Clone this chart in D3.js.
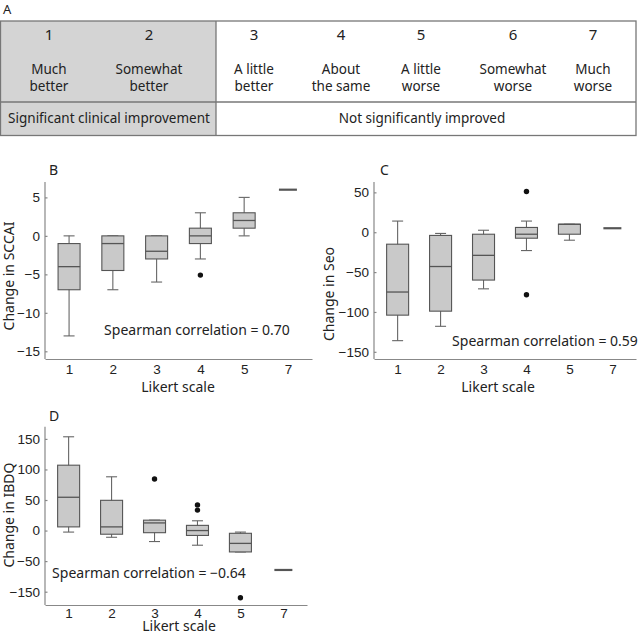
<!DOCTYPE html>
<html>
<head>
<meta charset="utf-8">
<script src="https://cdn.jsdelivr.net/npm/d3@7"></script>
<style>
  body { margin: 0; background: #fff; }
  svg { display: block; font-family: "Noto Sans", sans-serif; }
  .axis path, .axis line { stroke: #888; stroke-width: 1.2; }
  .axis text { font-size: 13.5px; fill: #222; }
</style>
</head>
<body>
<div id="chart"></div>
<script>
// ---- data ----
const likertLevels = ['1', '2', '3', '4', '5', '6', '7']
const likertWords = [
  ['Much', 'better'], ['Somewhat', 'better'], ['A little', 'better'],
  ['About', 'the same'], ['A little', 'worse'], ['Somewhat', 'worse'], ['Much', 'worse']
]
const groupLabels = ['Significant clinical improvement', 'Not significantly improved']

// categories present in the box plots (no patient answered 6)
const boxCategories = ['1', '2', '3', '4', '5', '7']

// [low whisker, Q1, median, Q3, high whisker] per category
const sccaiStats = [
  [-13, -7, -4, -1, 0],
  [-7, -4.5, -1, 0, 0],
  [-6, -3, -2, 0, 0],
  [-3, -1, 0, 1, 3],
  [0, 1, 2, 3, 5],
  [6, 6, 6, 6, 6]
]
const sccaiOutliers = [['4', -5.1]]
const sccaiTicks = [5, 0, -5, -10, -15]

const seoStats = [
  [-136, -104, -75, -15, 14],
  [-118, -99, -43, -4, -1.5],
  [-71, -60, -29, -2.5, 2.5],
  [-23, -7.5, -2.5, 6, 14],
  [-10, -2.5, 10, 10, 10],
  [5, 5, 5, 5, 5]
]
const seoOutliers = [['4', 51], ['4', -78.5]]
const seoTicks = [50, 0, -50, -100, -150]

const ibdqStats = [
  [-2.5, 6, 54.5, 107, 153.5],
  [-11, -6, 6, 49.5, 88],
  [-18, -3.5, 12.5, 17, 17],
  [-24, -8, 0, 8.5, 16],
  [-35, -35, -21, -4.5, -2.5],
  [-79, -79, -79, -79, -79]
]
const ibdqOutliers = [['3', 84.5], ['4', 42], ['4', 33.5], ['5', -160]]
const ibdqTicks = [150, 100, 50, 0, -50, -150]

// ---- layout ----
const W = 640, H = 635
const svg = d3.select('#chart').append('svg')
  .attr('width', W).attr('height', H)

// ---- panel A: Likert table ----
function drawTable () {
  const x0 = 0.5, x1 = 636, y0 = 21, yMid = 102, y1 = 135.5, split = 216
  const colX = [49, 149, 254, 341, 421, 513, 593]
  const g = svg.append('g')

  g.append('text').text('A').attr('x', 3).attr('y', 14)
    .attr('font-size', 13).attr('fill', '#222')

  g.append('rect').attr('x', x0).attr('y', y0)
    .attr('width', split - x0).attr('height', y1 - y0)
    .attr('fill', '#d4d4d4')
  g.append('rect').attr('x', x0).attr('y', y0)
    .attr('width', x1 - x0).attr('height', y1 - y0)
    .attr('fill', 'none').attr('stroke', '#777').attr('stroke-width', 1.3)
  g.append('line').attr('x1', x0).attr('x2', x1).attr('y1', yMid).attr('y2', yMid)
    .attr('stroke', '#777').attr('stroke-width', 1.3)
  g.append('line').attr('x1', split).attr('x2', split).attr('y1', y0).attr('y2', y1)
    .attr('stroke', '#777').attr('stroke-width', 1.3)

  likertLevels.forEach((lv, i) => {
    g.append('text').text(lv).attr('x', colX[i]).attr('y', 40)
      .attr('text-anchor', 'middle').attr('font-size', 15).attr('fill', '#222')
    likertWords[i].forEach((w, j) => {
      g.append('text').text(w).attr('x', colX[i]).attr('y', 74 + j * 17)
        .attr('text-anchor', 'middle').attr('font-size', 13.5).attr('fill', '#222')
    })
  })

  g.append('text').text(groupLabels[0]).attr('x', split / 2 + 1).attr('y', 123)
    .attr('text-anchor', 'middle').attr('font-size', 13.5).attr('fill', '#222')
  g.append('text').text(groupLabels[1]).attr('x', 422).attr('y', 123)
    .attr('text-anchor', 'middle').attr('font-size', 13.5).attr('fill', '#222')
}

// ---- box plot panels ----
function drawBoxPanel (p) {
  const g = svg.append('g')
  const x = d3.scalePoint().domain(boxCategories)
    .range([p.left, p.right]).padding(0.55)
  // domain/range may have more than two stops (broken axis in panel D)
  const y = d3.scaleLinear().domain(p.domain).range(p.range)
  const yBottom = p.range[0], yTop = p.range[p.range.length - 1]
  const boxW = 22, capW = 11

  g.append('g').attr('class', 'axis')
    .attr('transform', 'translate(0,' + yBottom + ')')
    .call(d3.axisBottom(x).tickSize(0).tickPadding(p.xPad).tickSizeOuter(0))

  g.append('g').attr('class', 'axis')
    .attr('transform', 'translate(' + p.left + ',0)')
    .call(d3.axisLeft(y).tickValues(p.ticks).tickSize(-2.5).tickPadding(5)
      .tickSizeOuter(0).tickFormat(d3.format('d')))
    .select('.domain').attr('d', 'M0,' + yBottom + 'V' + yTop)

  const boxes = g.selectAll('.box').data(p.stats.map((s, i) => ({ cat: boxCategories[i], s })))
    .join('g').attr('class', 'box')
    .attr('transform', d => 'translate(' + x(d.cat) + ',0)')

  // whiskers
  boxes.append('line')
    .attr('y1', d => y(d.s[0])).attr('y2', d => y(d.s[4]))
    .attr('stroke', '#666').attr('stroke-width', 1.1)
  boxes.filter(d => d.s[3] > d.s[1] || d.s[4] > d.s[0])
    .selectAll('.cap').data(d => [d.s[0], d.s[4]]).join('line')
    .attr('class', 'cap')
    .attr('x1', -capW / 2).attr('x2', capW / 2)
    .attr('y1', v => y(v)).attr('y2', v => y(v))
    .attr('stroke', '#666').attr('stroke-width', 1.1)

  // boxes
  boxes.filter(d => d.s[3] > d.s[1]).append('rect')
    .attr('x', -boxW / 2).attr('width', boxW)
    .attr('y', d => y(d.s[3])).attr('height', d => y(d.s[1]) - y(d.s[3]))
    .attr('fill', '#c9c9c9').attr('stroke', '#555').attr('stroke-width', 1.1)

  // medians
  boxes.append('line')
    .attr('x1', d => d.s[3] > d.s[1] ? -boxW / 2 : -9)
    .attr('x2', d => d.s[3] > d.s[1] ? boxW / 2 : 9)
    .attr('y1', d => y(d.s[2])).attr('y2', d => y(d.s[2]))
    .attr('stroke', '#555')
    .attr('stroke-width', d => d.s[3] > d.s[1] ? 1.3 : 2.2)

  g.selectAll('.outlier').data(p.outliers).join('circle')
    .attr('class', 'outlier')
    .attr('cx', d => x(d[0])).attr('cy', d => y(d[1]))
    .attr('r', 2.7).attr('fill', '#111')

  g.append('text').text(p.letter).attr('x', p.letterX).attr('y', p.letterY)
    .attr('font-size', 14).attr('fill', '#222')
  g.append('text').text(p.yTitle)
    .attr('transform', 'translate(' + p.yTitleX + ',' + p.yTitleY + ') rotate(-90)')
    .attr('text-anchor', 'middle').attr('font-size', 14).attr('fill', '#222')
  g.append('text').text('Likert scale').attr('x', p.xTitleX).attr('y', p.xTitleY)
    .attr('text-anchor', 'middle').attr('font-size', 14).attr('fill', '#222')
  g.append('text').text(p.note).attr('x', p.noteX).attr('y', p.noteY)
    .attr('text-anchor', 'middle').attr('font-size', 14).attr('fill', '#222')
}

drawTable()

drawBoxPanel({
  letter: 'B', letterX: 49, letterY: 175,
  left: 45, right: 312, domain: [-16, 7], range: [359, 182], xPad: 5,
  ticks: sccaiTicks, stats: sccaiStats, outliers: sccaiOutliers,
  yTitle: 'Change in SCCAI', yTitleX: 14, yTitleY: 276,
  xTitleX: 178, xTitleY: 392,
  note: 'Spearman correlation = 0.70', noteX: 197, noteY: 335
})

drawBoxPanel({
  letter: 'C', letterX: 380, letterY: 175,
  left: 374, right: 636, domain: [-159, 63], range: [359, 182], xPad: 5,
  ticks: seoTicks, stats: seoStats, outliers: seoOutliers,
  yTitle: 'Change in Seo', yTitleX: 334, yTitleY: 294,
  xTitleX: 498, xTitleY: 392,
  note: 'Spearman correlation = 0.59', noteX: 545, noteY: 346
})

// the IBDQ axis in the source is broken: the -150 label sits where -100 would be
drawBoxPanel({
  letter: 'D', letterX: 49, letterY: 421,
  left: 45, right: 307,
  domain: [-172, -150, -50, 170], range: [605, 591.7, 561.1, 426.7], xPad: 3,
  ticks: ibdqTicks, stats: ibdqStats, outliers: ibdqOutliers,
  yTitle: 'Change in IBDQ', yTitleX: 14, yTitleY: 515,
  xTitleX: 179, xTitleY: 631,
  note: 'Spearman correlation = \u22120.64', noteX: 149, noteY: 578
})
</script>
</body>
</html>
